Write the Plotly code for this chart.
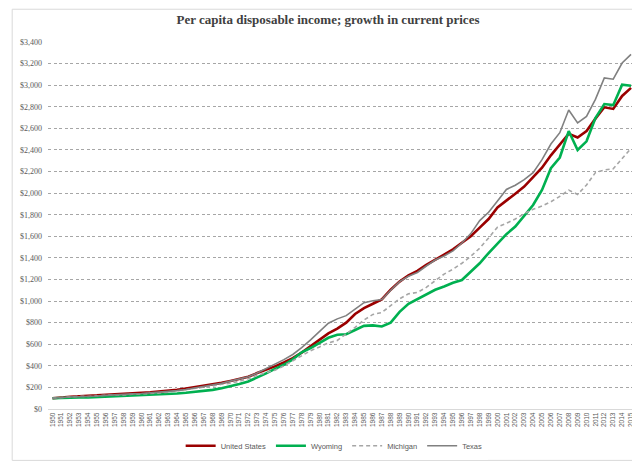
import plotly.graph_objects as go

years = list(range(1950, 2016))

united_states = [100, 109, 113, 118, 120, 126, 132, 138, 141, 146,
                 150, 154, 161, 166, 178, 189, 201, 212, 227, 242,
                 260, 279, 299, 333, 362, 395, 431, 471, 523, 580,
                 641, 700, 745, 800, 880, 935, 975, 1015, 1105, 1180,
                 1239, 1280, 1335, 1380, 1430, 1480, 1540, 1600, 1680, 1760,
                 1868, 1928, 1995, 2060, 2145, 2235, 2350, 2450, 2550, 2515,
                 2575, 2690, 2795, 2780, 2900, 2975]

wyoming = [100, 104, 105, 106, 107, 110, 114, 117, 120, 123,
           126, 129, 134, 138, 143, 150, 158, 166, 177, 192,
           210, 232, 255, 290, 330, 372, 410, 460, 525, 565,
           615, 660, 688, 693, 732, 770, 775, 765, 800, 900,
           975, 1020, 1065, 1105, 1135, 1170, 1195, 1270, 1350, 1445,
           1535, 1620, 1690, 1785, 1890, 2030, 2230, 2330, 2575, 2400,
           2480, 2695, 2825, 2815, 3005, 2995]

michigan = [100, 107, 111, 118, 116, 124, 128, 131, 130, 136,
            139, 140, 148, 156, 167, 180, 192, 199, 214, 229,
            238, 258, 281, 312, 334, 360, 400, 448, 497, 540,
            575, 613, 635, 695, 756, 825, 876, 894, 961, 1021,
            1067, 1080, 1127, 1190, 1250, 1295, 1350, 1415, 1490, 1585,
            1685, 1720, 1760, 1810, 1850, 1880, 1920, 1970, 2028, 1988,
            2075, 2190, 2215, 2225, 2315, 2415]

texas = [100, 108, 111, 113, 115, 120, 126, 132, 136, 140,
         143, 148, 154, 159, 170, 181, 194, 206, 222, 238,
         258, 276, 298, 333, 372, 415, 457, 505, 568, 640,
         720, 795, 835, 865, 925, 985, 1003, 1015, 1100, 1180,
         1230, 1265, 1325, 1380, 1418, 1465, 1538, 1625, 1745, 1823,
         1928, 2034, 2073, 2125, 2190, 2310, 2455, 2560, 2770, 2650,
         2710, 2868, 3068, 3055, 3205, 3285]

fig = go.Figure()
fig.add_trace(go.Scatter(x=years, y=united_states, name="United States", mode="lines",
                         line=dict(color="#9A0000", width=2.6)))
fig.add_trace(go.Scatter(x=years, y=wyoming, name="Wyoming", mode="lines",
                         line=dict(color="#00B050", width=2.6)))
fig.add_trace(go.Scatter(x=years, y=michigan, name="Michigan", mode="lines",
                         line=dict(color="#A6A6A6", width=1.6, dash="4px,3px")))
fig.add_trace(go.Scatter(x=years, y=texas, name="Texas", mode="lines",
                         line=dict(color="#808080", width=1.6)))

fig.update_layout(
    width=640, height=464,
    margin=dict(l=37, r=16, t=34, b=55),
    paper_bgcolor="white", plot_bgcolor="white",
    title=dict(text="<b>Per capita disposable income; growth in current prices</b>",
               x=0.5, xanchor="center", y=0.975, yanchor="middle",
               font=dict(family="Liberation Serif", size=13, color="#404040")),
    legend=dict(orientation="h", x=0.49, xanchor="center", y=-0.1, yanchor="middle",
                font=dict(family="Liberation Sans", size=7.5, color="#595959"),
                itemwidth=30, tracegroupgap=0),
    xaxis=dict(range=[1949.5, 2015.11], tickmode="array", tickvals=years,
               ticktext=[str(y) for y in years], tickangle=-90,
               tickfont=dict(family="Liberation Sans Narrow, Liberation Sans", size=6.5, color="#595959"),
               showgrid=False, showline=True, linecolor="#D9D9D9", linewidth=1,
               ticks="", zeroline=False),
    yaxis=dict(range=[0, 3400], dtick=200, tickprefix="$", tickformat=",",
               tickfont=dict(family="Liberation Serif", size=8, color="#595959"),
               showgrid=True, gridcolor="#A6A6A6", griddash="3px,2.5px", gridwidth=0.8,
               zeroline=False, ticks="", ticklabelstandoff=5),
    shapes=[dict(type="rect", xref="paper", yref="paper",
                 x0=-0.0613, x1=1.0239, y0=-0.14, y1=1.0893,
                 line=dict(color="#D9D9D9", width=1), layer="below")],
)

fig.write_html("out.html")
